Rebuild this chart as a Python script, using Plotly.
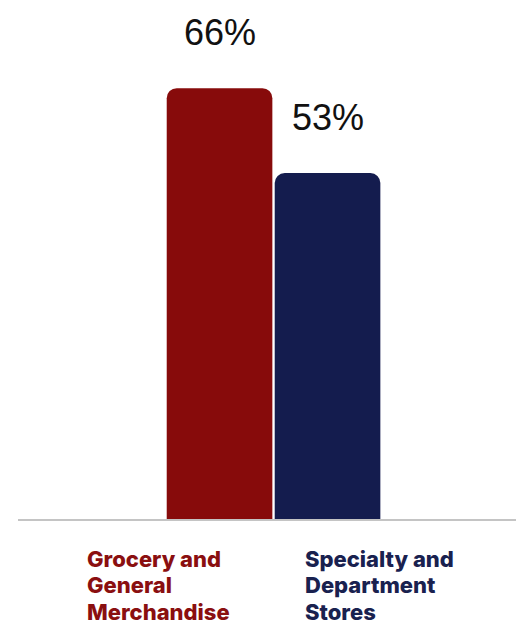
import plotly.graph_objects as go

# Share of shoppers by store type
categories = [
    ["Grocery and", "General", "Merchandise"],
    ["Specialty and", "Department", "Stores"],
]
values = [66, 53]
value_labels = ["66%", "53%"]
bar_colors = ["#870b0b", "#141c4e"]
label_colors = ["#8a0f10", "#19214f"]

x_pos = list(range(len(values)))

fig = go.Figure()
fig.add_trace(go.Bar(
    x=x_pos,
    y=values,
    width=0.978,
    marker=dict(color=bar_colors, line=dict(width=0), cornerradius=10),
    hoverinfo="skip",
))

# value labels above bars
for xp, v, t in zip(x_pos, values, value_labels):
    fig.add_annotation(
        x=xp, y=v, text=t, showarrow=False,
        xanchor="center", yanchor="bottom", yshift=33,
        font=dict(family="Liberation Sans, Arial, sans-serif", size=36, color="#111111"),
    )

# category labels below the baseline, left aligned, one annotation per line
label_x = [-1.250, 0.773]
line_y = [-0.0771, -0.1277, -0.1784]
for lx, lines, col in zip(label_x, categories, label_colors):
    for ly, line in zip(line_y, lines):
        fig.add_annotation(
            x=lx, xref="x", y=ly, yref="paper", yanchor="middle", xanchor="left",
            text=line, showarrow=False, align="left",
            font=dict(family="Inter, Lato, sans-serif", size=22, weight=800, color=col),
        )

fig.update_layout(
    width=516, height=621,
    margin=dict(l=18, r=0, t=0, b=102),
    paper_bgcolor="white", plot_bgcolor="white",
    showlegend=False,
    xaxis=dict(range=[-1.866, 2.745], showgrid=False, zeroline=False,
               showticklabels=False, showline=True, linecolor="#c4c4c4",
               linewidth=2, ticks=""),
    yaxis=dict(range=[0, 79.5], showgrid=False, zeroline=False,
               showticklabels=False, showline=False, ticks=""),
)

fig.write_html("out.html")
